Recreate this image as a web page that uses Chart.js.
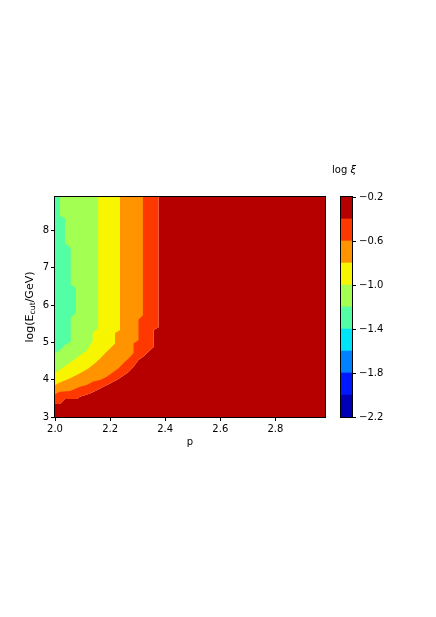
<!DOCTYPE html>
<html>
<head>
<meta charset="utf-8">
<script src="https://cdn.jsdelivr.net/npm/chart.js@4"></script>
<style>
  body { margin: 0; background: #fff; }
  #wrap { position: relative; width: 436px; height: 617px; }
  canvas { position: absolute; left: 0; top: 0; }
</style>
</head>
<body>
<div id="wrap">
  <canvas id="contour" width="436" height="617"></canvas>
  <canvas id="colorbar" width="436" height="617"></canvas>
</div>
<script>
// contour levels of log xi and the jet colour of each band between them
const levels = [-2.2, -2.0, -1.8, -1.6, -1.4, -1.2, -1.0, -0.8, -0.6, -0.4, -0.2]
const levelColors = ['#0000b6', '#0018ff', '#0081ff', '#00e4f8', '#53ffa4',
                     '#a4ff53', '#f8f500', '#ff9400', '#ff3800', '#b60000']

const xTicks = [2.0, 2.2, 2.4, 2.6, 2.8]
const yTicks = [3, 4, 5, 6, 7, 8]
const barTicks = [-2.2, -1.8, -1.4, -1.0, -0.6, -0.2]

const pMin = 2.0, pMax = 2.98
const eMin = 3.0, eMax = 8.9

// contour lines, from the left edge up to the top edge
// p values and log(Ecut) values along each line
const line12P = [2.0, 2.018, 2.036, 2.057, 2.057, 2.076, 2.076, 2.057, 2.057, 2.036, 2.036, 2.018, 2.018]
const line12E = [4.71, 4.79, 4.93, 5.02, 5.66, 5.80, 6.45, 6.56, 7.54, 7.66, 8.33, 8.39, 8.9]

const line10P = [2.0, 2.018, 2.036, 2.055, 2.079, 2.097, 2.117, 2.137, 2.137, 2.157, 2.157]
const line10E = [4.19, 4.27, 4.36, 4.46, 4.58, 4.68, 4.79, 5.04, 5.26, 5.38, 8.9]

const line08P = [2.0, 2.016, 2.055, 2.091, 2.121, 2.145, 2.164, 2.182, 2.2, 2.218, 2.218, 2.236, 2.236]
const line08E = [3.86, 3.92, 4.04, 4.17, 4.30, 4.44, 4.57, 4.71, 4.84, 4.97, 5.25, 5.33, 8.9]

const line06P = [2.0, 2.018, 2.055, 2.091, 2.115, 2.139, 2.164, 2.188, 2.212, 2.23, 2.248, 2.267,
                 2.285, 2.285, 2.303, 2.303, 2.319, 2.319]
const line06E = [3.61, 3.68, 3.70, 3.81, 3.86, 3.95, 3.99, 4.08, 4.21, 4.30, 4.44, 4.57,
                 4.71, 4.97, 5.06, 5.61, 5.73, 8.9]

const line04P = [2.0, 2.018, 2.036, 2.079, 2.091, 2.127, 2.152, 2.176, 2.2, 2.224, 2.242, 2.267,
                 2.285, 2.303, 2.321, 2.339, 2.358, 2.358, 2.376, 2.376]
const line04E = [3.35, 3.35, 3.48, 3.48, 3.54, 3.63, 3.72, 3.81, 3.90, 3.99, 4.08, 4.21,
                 4.35, 4.53, 4.62, 4.75, 4.88, 5.33, 5.41, 8.9]

Chart.defaults.font.family = 'DejaVu Sans'
Chart.defaults.font.size = 10
Chart.defaults.color = '#000'

function band(ps, es, color, fillTo) {
    return {
        data: ps.map((p, i) => ({x: p, y: es[i]})),
        backgroundColor: color,
        borderColor: 'rgba(0,0,0,0)',
        borderWidth: 0,
        pointRadius: 0,
        fill: {value: fillTo}
    }
}

const frame = {
    id: 'frame',
    afterDraw(chart) {
        const ctx = chart.ctx
        const a = chart.chartArea
        ctx.save()
        ctx.strokeStyle = '#000'
        ctx.lineWidth = 1
        ctx.strokeRect(a.left - 0.5, a.top - 0.5, a.right - a.left + 1, a.bottom - a.top + 1)
        ctx.restore()
    }
}

const axisTitles = {
    id: 'axisTitles',
    afterDraw(chart) {
        const ctx = chart.ctx
        const a = chart.chartArea
        ctx.save()
        ctx.fillStyle = '#000'
        ctx.font = '10px DejaVu Sans'
        ctx.textAlign = 'center'
        ctx.textBaseline = 'middle'
        ctx.fillText('p', (a.left + a.right) / 2, 442)

        // y title with subscript, rotated
        const parts = [['log(E', '11px DejaVu Sans', 0], ['cut', '7.7px DejaVu Sans', 3], ['/GeV)', '11px DejaVu Sans', 0]]
        let total = 0
        parts.forEach(pt => { ctx.font = pt[1]; total += ctx.measureText(pt[0]).width })
        ctx.translate(30, (a.top + a.bottom) / 2)
        ctx.rotate(-Math.PI / 2)
        ctx.textAlign = 'left'
        let x = -total / 2
        parts.forEach(pt => {
            ctx.font = pt[1]
            ctx.fillText(pt[0], x, pt[2])
            x += ctx.measureText(pt[0]).width
        })
        ctx.restore()
    }
}

new Chart(document.getElementById('contour'), {
    type: 'line',
    data: {
        datasets: [
            band(line12P, line12E, levelColors[4], pMin),
            band(line10P, line10E, levelColors[5], pMin),
            band(line08P, line08E, levelColors[6], pMin),
            band(line06P, line06E, levelColors[7], pMin),
            band(line04P, line04E, levelColors[8], pMin),
            band([pMin].concat(line04P), [eMin].concat(line04E), levelColors[9], pMax)
        ]
    },
    options: {
        responsive: false,
        animation: false,
        devicePixelRatio: 1,
        indexAxis: 'y',
        layout: {padding: {left: 0, top: 197, right: 111, bottom: 170}},
        scales: {
            x: {
                type: 'linear', min: pMin, max: pMax,
                afterBuildTicks: s => { s.ticks = xTicks.map(v => ({value: v})) },
                afterFit: s => { s.height = 30 },
                grid: {drawOnChartArea: false, color: '#000', tickLength: 4},
                border: {display: false},
                ticks: {padding: 2, maxRotation: 0, autoSkip: false, callback: v => v.toFixed(1)}
            },
            y: {
                type: 'linear', min: eMin, max: eMax,
                afterBuildTicks: s => { s.ticks = yTicks.map(v => ({value: v})) },
                afterFit: s => { s.width = 55 },
                grid: {drawOnChartArea: false, color: '#000', tickLength: 4},
                border: {display: false},
                ticks: {padding: 2, autoSkip: false, callback: v => String(v)}
            }
        },
        plugins: {legend: {display: false}, tooltip: {enabled: false}, filler: {propagate: false}}
    },
    plugins: [frame, axisTitles]
})

const barTitle = {
    id: 'barTitle',
    afterDraw(chart) {
        const ctx = chart.ctx
        ctx.save()
        ctx.fillStyle = '#000'
        ctx.textBaseline = 'middle'
        ctx.font = '10px DejaVu Sans'
        const w1 = ctx.measureText('log ').width
        ctx.font = 'italic 10px DejaVu Sans'
        const w2 = ctx.measureText('\u03be').width
        const x0 = 344 - (w1 + w2) / 2
        ctx.font = '10px DejaVu Sans'
        ctx.fillText('log ', x0, 170)
        ctx.font = 'italic 10px DejaVu Sans'
        ctx.fillText('\u03be', x0 + w1, 170)
        ctx.restore()
    }
}

new Chart(document.getElementById('colorbar'), {
    type: 'bar',
    data: {
        labels: [''],
        datasets: levelColors.map((c, i) => ({
            data: [[levels[i], levels[i + 1]]],
            backgroundColor: c,
            barPercentage: 1,
            categoryPercentage: 1,
            grouped: false
        }))
    },
    options: {
        responsive: false,
        animation: false,
        devicePixelRatio: 1,
        layout: {padding: {left: 341, top: 197, right: 44, bottom: 200}},
        scales: {
            x: {display: false},
            y: {
                position: 'right', min: levels[0], max: levels[levels.length - 1],
                afterBuildTicks: s => { s.ticks = barTicks.map(v => ({value: v})) },
                afterFit: s => { s.width = 40 },
                grid: {drawOnChartArea: false, color: '#000', tickLength: 4},
                border: {display: false},
                ticks: {padding: 3, autoSkip: false, callback: v => (v < 0 ? '\u2212' : '') + Math.abs(v).toFixed(1)}
            }
        },
        plugins: {legend: {display: false}, tooltip: {enabled: false}}
    },
    plugins: [frame, barTitle]
})
</script>
</body>
</html>
